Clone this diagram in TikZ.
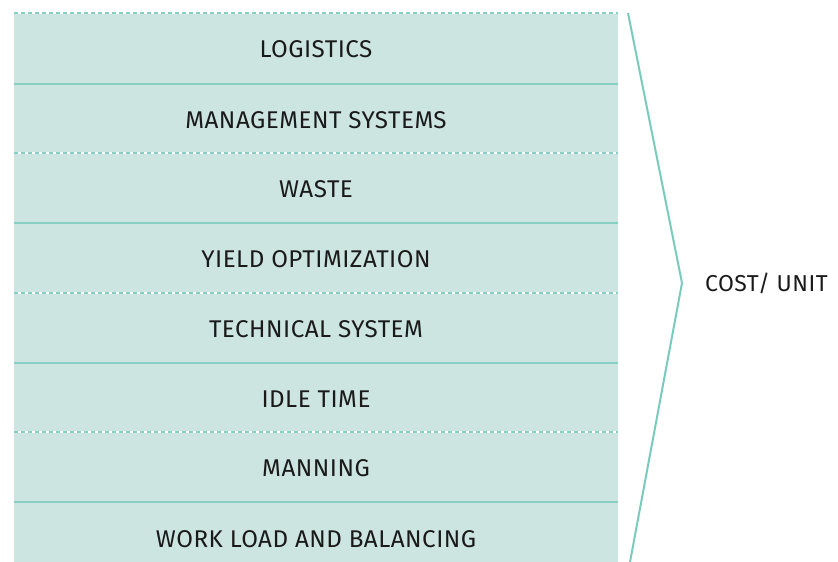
\documentclass[tikz,border=0pt]{standalone}
\usepackage{fontspec}
\setmainfont{Fira Sans}
\definecolor{rowfill}{HTML}{CCE5E1}
\definecolor{teal1}{HTML}{86CFC2}
\definecolor{teal2}{HTML}{7ACBBC}
\definecolor{txt}{HTML}{1A1A1A}
\begin{document}
\begin{tikzpicture}[x=1pt,y=-1pt,
  rowtext/.style={font=\fontsize{24.2}{26}\selectfont\addfontfeature{LetterSpace=2}, text=txt, anchor=center, inner sep=0pt},
  costtext/.style={font=\fontsize{23}{26}\selectfont\addfontfeature{LetterSpace=2}, text=txt, anchor=west, inner sep=0pt},
  solidsep/.style={draw=teal1, line width=1.1pt},
  dashsep/.style={draw=teal1, line width=1.1pt, dash pattern=on 4pt off 3pt},
  whitesep/.style={draw=white, line width=1.1pt}]
\useasboundingbox (0,0) rectangle (838,562);
\fill[rowfill] (14,13) rectangle (618,562);
% separators
\foreach \y in {13,153,293,432} {
  \draw[whitesep] (14,\y) -- (618,\y);
  \draw[dashsep] (14,\y) -- (618,\y);
}
\foreach \y in {84,223,363,502} {
  \draw[solidsep] (14,\y) -- (618,\y);
}
\node[rowtext] (r1) at (316,49) {LOGISTICS};
\node[rowtext] (r2) at (316,120) {MANAGEMENT SYSTEMS};
\node[rowtext] (r3) at (316,189) {WASTE};
\node[rowtext] (r4) at (316,259) {YIELD OPTIMIZATION};
\node[rowtext] (r5) at (316,329) {TECHNICAL SYSTEM};
\node[rowtext] (r6) at (316,399) {IDLE TIME};
\node[rowtext] (r7) at (316,468) {MANNING};
\node[rowtext] (r8) at (316,539) {WORK LOAD AND BALANCING};
% bracket
\coordinate (btop) at (628,13);
\coordinate (btip) at (682,283);
\coordinate (bbot) at (630,562);
\draw[teal2, line width=2pt, line join=miter] (btop) -- (btip) -- (bbot);
\node[costtext] (cost) at (705,283) {COST/ UNIT};
\end{tikzpicture}
\end{document}
